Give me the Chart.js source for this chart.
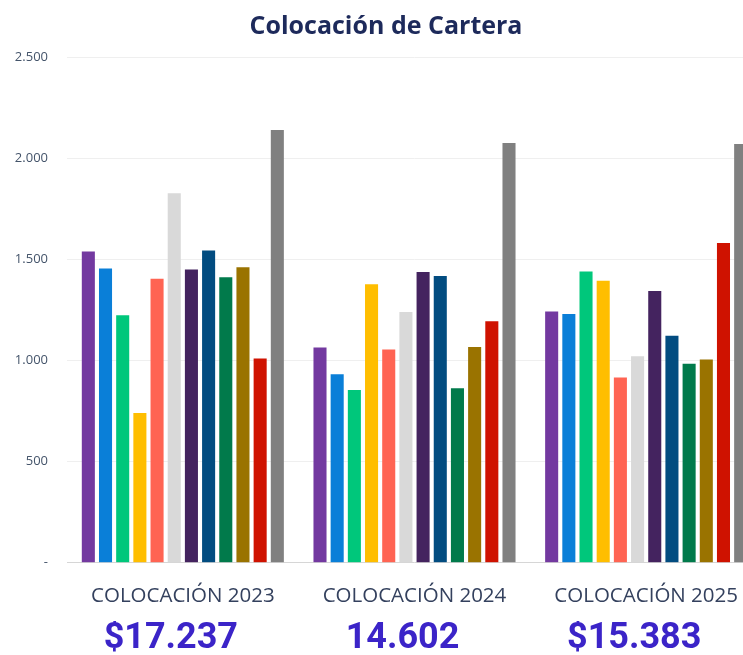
<!DOCTYPE html>
<html lang="es">
<head>
<meta charset="utf-8">
<title>Colocación de Cartera</title>
<script src="https://cdn.jsdelivr.net/npm/chart.js@4"></script>
<style>
  html, body { margin: 0; padding: 0; background: #fff; overflow: hidden; }
  #wrap { width: 762px; height: 655px; }
</style>
</head>
<body>
<div id="wrap"><canvas id="myChart" width="762" height="655"></canvas></div>
<script>
const categories = ['COLOCACIÓN 2023', 'COLOCACIÓN 2024', 'COLOCACIÓN 2025'];
const totals = ['$17.237', '14.602', '$15.383'];

const seriesNames = ['Línea 1', 'Línea 2', 'Línea 3', 'Línea 4', 'Línea 5', 'Línea 6',
  'Línea 7', 'Línea 8', 'Línea 9', 'Línea 10', 'Línea 11', 'Línea 12'];

const values2023 = [1538, 1455, 1223, 740, 1404, 1827, 1449, 1543, 1411, 1460, 1009, 2139];
const values2024 = [1064, 932, 854, 1376, 1054, 1239, 1437, 1417, 862, 1066, 1194, 2075];
const values2025 = [1242, 1229, 1439, 1394, 915, 1021, 1343, 1122, 983, 1004, 1581, 2070];

const yTicks = [0, 500, 1000, 1500, 2000, 2500];

const colors = ['#7339a0', '#0a7fd8', '#00c77b', '#ffbe00', '#ff6453', '#d9d9d9',
  '#44235f', '#024c80', '#017a4b', '#9a7300', '#cf1200', '#808080'];

const formatNum = (v) => v === 0 ? '-' : String(v).replace(/\B(?=(\d{3})+(?!\d))/g, '.');

const datasets = seriesNames.map((name, i) => ({
  label: name,
  data: [values2023[i], values2024[i], values2025[i]],
  backgroundColor: colors[i],
  borderWidth: 0,
  categoryPercentage: 0.89,
  barPercentage: 0.76
}));

const ctx = document.getElementById('myChart').getContext('2d');
const myChart = new Chart(ctx, {
  type: 'bar',
  data: { labels: categories, datasets: datasets },
  options: {
    responsive: false,
    animation: false,
    layout: { padding: { left: 10, right: 0, top: 0, bottom: 0 } },
    plugins: {
      legend: { display: false },
      tooltip: { enabled: false },
      title: {
        display: true,
        text: 'Colocación de Cartera',
        color: '#1d2a5b',
        font: { family: 'Open Sans', size: 25, weight: 'bold' },
        padding: { top: 12, bottom: 15 }
      }
    },
    scales: {
      x: {
        weight: 0,
        offset: true,
        // tick marks hidden, tickLength only used as spacing
        grid: { display: false, drawTicks: true, tickLength: 8.3 },
        border: { display: false },
        ticks: {
          autoSkip: false,
          maxRotation: 0,
          padding: 14.75,
          color: '#34415e',
          font: { family: 'Open Sans', size: 20.5, lineHeight: 1 }
        }
      },
      x2: {
        type: 'category',
        labels: totals,
        position: 'bottom',
        weight: 1,
        offset: true,
        grid: { display: false, drawTicks: true, tickLength: 2.6 },
        border: { display: false },
        ticks: {
          autoSkip: false,
          maxRotation: 0,
          padding: -2.3,
          labelOffset: -12,
          color: '#3b24c8',
          font: { family: 'Roboto', size: 36, weight: 'bold', lineHeight: 1 }
        }
      },
      y: {
        min: yTicks[0],
        max: yTicks[yTicks.length - 1],
        afterBuildTicks: (scale) => { scale.ticks = yTicks.map(v => ({ value: v })); },
        afterFit: (scale) => { scale.width = 57; },
        border: { display: false },
        grid: {
          drawTicks: false,
          color: (c) => c.tick && c.tick.value === 0 ? '#d6d6d6' : '#efefef'
        },
        ticks: {
          padding: 19,
          color: '#44546a',
          font: { family: 'Open Sans', size: 13 },
          callback: (v) => formatNum(v)
        }
      }
    }
  }
});
</script>
</body>
</html>
